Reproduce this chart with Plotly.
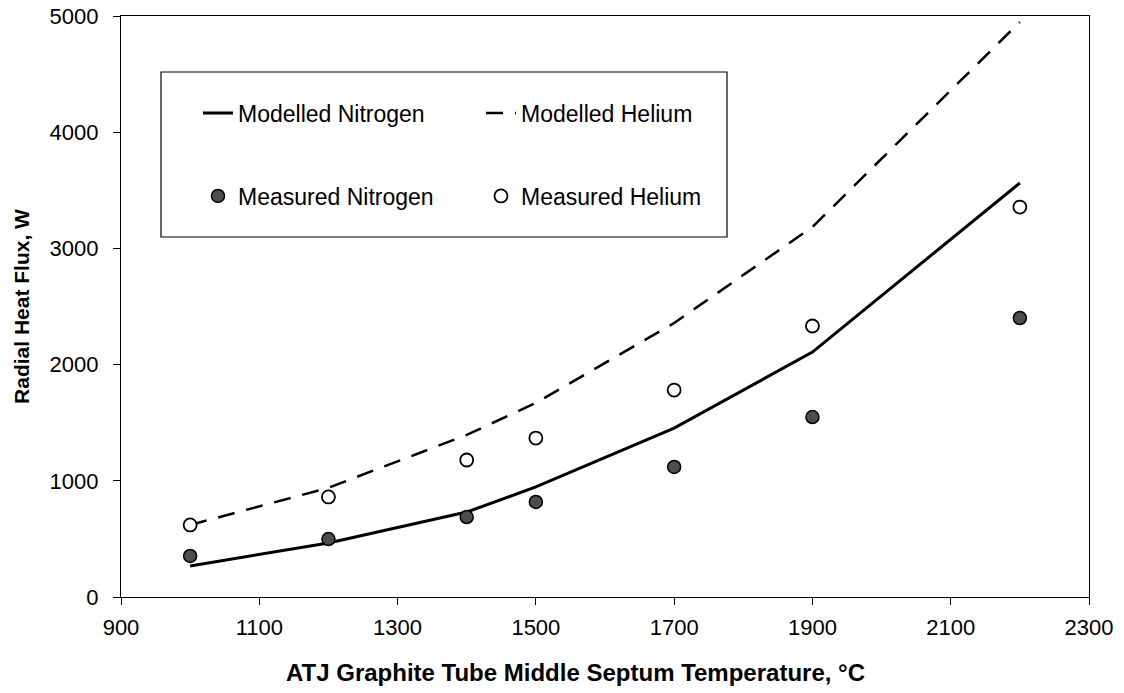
import plotly.graph_objects as go

temps = [1000, 1200, 1400, 1500, 1700, 1900, 2200]
modelled_nitrogen = [267, 465, 731, 947, 1454, 2108, 3563]
modelled_helium = [620, 940, 1395, 1670, 2358, 3184, 4948]
measured_nitrogen = [353, 499, 688, 818, 1119, 1549, 2401]
measured_helium = [620, 861, 1179, 1368, 1781, 2332, 3356]

x_ticks = [900, 1100, 1300, 1500, 1700, 1900, 2100, 2300]
y_ticks = [0, 1000, 2000, 3000, 4000, 5000]
x_title = "ATJ Graphite Tube Middle Septum Temperature, °C"
y_title = "Radial Heat Flux, W"

FONT = "Liberation Sans, Arial, sans-serif"
W, H = 1124, 693
L, R, T, B = 121, 35, 16, 96
pw, ph = W - L - R, H - T - B

def px(xp):
    return (xp - L) / pw

def py(yp):
    return 1 - (yp - T) / ph

fig = go.Figure()
fig.add_trace(go.Scatter(x=temps, y=modelled_nitrogen, mode="lines", name="Modelled Nitrogen",
                         line=dict(color="black", width=3), legend="legend"))
fig.add_trace(go.Scatter(x=temps, y=modelled_helium, mode="lines", name="Modelled Helium",
                         line=dict(color="black", width=2.5, dash="17px,12px"), legend="legend"))
fig.add_trace(go.Scatter(x=temps, y=measured_nitrogen, mode="markers", name="Measured Nitrogen",
                         marker=dict(size=13, color="#4d4d4d", line=dict(color="black", width=1.5)),
                         legend="legend2"))
fig.add_trace(go.Scatter(x=temps, y=measured_helium, mode="markers", name="Measured Helium",
                         marker=dict(size=13, color="white", line=dict(color="black", width=1.8)),
                         legend="legend2"))

legend_common = dict(orientation="h", xanchor="left", yanchor="middle",
                     bgcolor="rgba(0,0,0,0)", borderwidth=0,
                     font=dict(family=FONT, size=23, color="black"),
                     entrywidth=238, entrywidthmode="pixels", tracegroupgap=0)

fig.update_layout(
    width=W, height=H,
    margin=dict(l=L, r=R, t=T, b=B, autoexpand=False),
    paper_bgcolor="white", plot_bgcolor="white",
    font=dict(family=FONT, size=21, color="black"),
    showlegend=True,
    legend=dict(x=px(198), y=py(113), **legend_common),
    legend2=dict(x=px(198), y=py(196), **legend_common),
    xaxis=dict(range=[900, 2300], tickvals=x_ticks, ticks="outside", ticklen=7, tickwidth=1,
               tickcolor="black", showline=True, linecolor="black", linewidth=1.2, mirror=True,
               showgrid=False, zeroline=False, tickfont=dict(family=FONT, size=22),
               ticklabelstandoff=3, automargin=False),
    yaxis=dict(range=[0, 5000], tickvals=y_ticks, ticks="outside", ticklen=7, tickwidth=1,
               tickcolor="black", showline=True, linecolor="black", linewidth=1.2, mirror=True,
               showgrid=False, zeroline=False, tickfont=dict(family=FONT, size=22),
               ticklabelstandoff=10, automargin=False,
               title=dict(text="<b>" + y_title + "</b>",
                          font=dict(family=FONT, size=21), standoff=14)),
    annotations=[dict(text="<b>" + x_title + "</b>", xref="paper", yref="paper",
                      x=px(575), y=py(672), xanchor="center", yanchor="middle",
                      showarrow=False, font=dict(family=FONT, size=24, color="black"))],
    shapes=[dict(type="rect", xref="paper", yref="paper",
                 x0=px(161), x1=px(727), y0=py(237), y1=py(72),
                 line=dict(color="black", width=1.2), fillcolor="rgba(0,0,0,0)", layer="below")],
)

fig.write_html("out.html", config={"displayModeBar": False},
               post_script="document.body.style.margin='0';")
